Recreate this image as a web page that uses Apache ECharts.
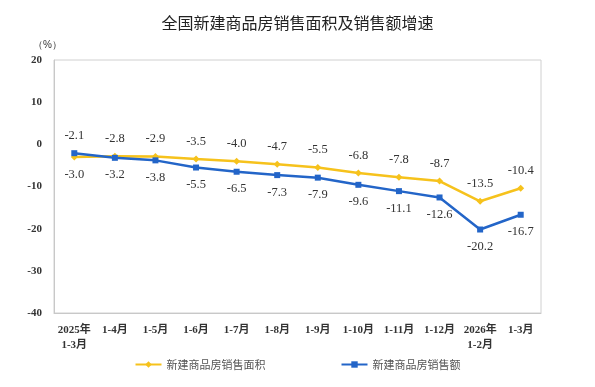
<!DOCTYPE html>
<html><head><meta charset="utf-8">
<script src="https://cdn.jsdelivr.net/npm/echarts@6/dist/echarts.min.js"></script>
<style>html,body{margin:0;padding:0;background:#fff}#c{width:595px;height:387px}</style>
</head><body><div id="c"></div>
<script>
const categories = ['2025年\n1-3月','1-4月','1-5月','1-6月','1-7月','1-8月','1-9月','1-10月','1-11月','1-12月','2026年\n1-2月','1-3月'];
const areaGrowth = [-3.0,-2.8,-2.9,-3.5,-4.0,-4.7,-5.5,-6.8,-7.8,-8.7,-13.5,-10.4];
const salesGrowth = [-2.1,-3.2,-3.8,-5.5,-6.5,-7.3,-7.9,-9.6,-11.1,-12.6,-20.2,-16.7];
const yTicks = [-40,-30,-20,-10,0,10,20];
const seriesNames = ['新建商品房销售面积','新建商品房销售额'];

const serif = '"Liberation Serif","Noto Sans CJK SC",serif';
const chart = echarts.init(document.getElementById('c'), null, {renderer:'canvas'});
const areaData = areaGrowth.map((v,i)=>({value:v,label:{position: i===0?'bottom':'top'}}));
const salesData = salesGrowth.map((v,i)=>({value:v,label:{position: i===0?'top':'bottom'}}));
chart.setOption({
  animation:false,
  title:{text:'全国新建商品房销售面积及销售额增速',left:'center',top:10,
    textStyle:{fontSize:16,fontWeight:'normal',color:'#222',fontFamily:'"Noto Sans CJK SC",sans-serif'}},
  grid:{left:54,right:54,top:60,bottom:74,show:true,borderColor:'#d0d0d0',borderWidth:1},
  legend:{bottom:12,itemGap:75,itemWidth:26,itemHeight:8,
    textStyle:{fontSize:11,color:'#555',fontFamily:'"Noto Sans CJK SC",sans-serif'},
    data:seriesNames},
  xAxis:{type:'category',data:categories,boundaryGap:true,
    axisLine:{onZero:false,lineStyle:{color:'#c8c8c8'}},
    axisTick:{inside:true,length:4,lineStyle:{color:'#c8c8c8'}},
    axisLabel:{fontSize:11,color:'#333',fontFamily:serif,fontWeight:'bold',margin:10,lineHeight:15,interval:0}},
  yAxis:{type:'value',min:yTicks[0],max:yTicks[yTicks.length-1],interval:10,
    name:'（%）',nameLocation:'end',nameGap:10,
    nameTextStyle:{fontSize:10,color:'#333',align:'right',padding:[0,-8,0,0]},
    splitLine:{show:false},
    axisLine:{show:true,lineStyle:{color:'#c8c8c8'}},
    axisTick:{show:false},
    axisLabel:{fontSize:11,color:'#333',fontFamily:serif,fontWeight:'bold',margin:12}},
  series:[
    {name:seriesNames[0],type:'line',data:areaData,symbol:'diamond',symbolSize:7,
      itemStyle:{color:'#F6C21C'},lineStyle:{color:'#F6C21C',width:2.5},
      label:{show:true,fontSize:12.5,color:'#333',fontFamily:serif,distance:8,formatter:p=>p.value.toFixed(1)}},
    {name:seriesNames[1],type:'line',data:salesData,symbol:'rect',symbolSize:6,
      itemStyle:{color:'#2365C8'},lineStyle:{color:'#2365C8',width:2.5},
      label:{show:true,fontSize:12.5,color:'#333',fontFamily:serif,distance:8,formatter:p=>p.value.toFixed(1)}}
  ]
});
</script></body></html>
